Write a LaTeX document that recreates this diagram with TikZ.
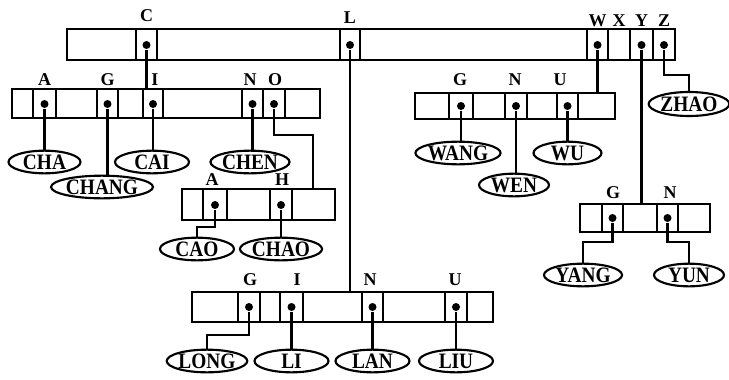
\documentclass[tikz,border=0pt]{standalone}
\usepackage{fontspec}
\setmainfont{Liberation Serif}
\newfontfamily\leaffont[FakeStretch=0.88]{Liberation Serif}
\usetikzlibrary{shapes.geometric,fit}

\tikzset{every picture/.style={line width=1.6pt}}
\tikzset{
  bar/.style={draw, inner sep=0pt},
  leaf/.style={draw, ellipse, inner sep=0pt, minimum width=55.5pt, minimum height=17pt, font=\leaffont\bfseries\fontsize{16.5}{16}\selectfont},
  lbl/.style={inner sep=0pt, font=\bfseries\fontsize{13.5}{13}\selectfont},
  dot/.style={circle, fill, inner sep=0pt, minimum size=6pt},
}

\begin{document}
\begin{tikzpicture}[x=0.75pt,y=0.75pt,yscale=-1,xscale=1]
\useasboundingbox (0,0) rectangle (729,379);

%Bars
\node[bar, fit={(67,29) (675,60)}] (tb) {};
\node[bar, fit={(12,89) (320,118)}] (lb) {};
\node[bar, fit={(182,189) (335,220)}] (cb) {};
\node[bar, fit={(192,292) (493,322)}] (bb) {};
\node[bar, fit={(415,93) (615,119)}] (wb) {};
\node[bar, fit={(580,204) (710,232)}] (yb) {};

%Cell walls
\foreach \x in {136,157,340,360,587,608,630,653} \draw (\x,29) -- (\x,60);
\foreach \x in {33,56,97,118,143,163,242,263,285} \draw (\x,89) -- (\x,118);
\foreach \x in {203,227,270,292} \draw (\x,189) -- (\x,220);
\foreach \x in {238,260,280,303,362,383,445,467} \draw (\x,292) -- (\x,322);
\foreach \x in {449,473,505,527,557,578} \draw (\x,93) -- (\x,119);
\foreach \x in {602,623,657,678} \draw (\x,204) -- (\x,232);

%Pointers
\node[dot] (tC) at (146.5,45) {};
\node[dot] (tL) at (350,45) {};
\node[dot] (tW) at (597.5,45) {};
\node[dot] (tY) at (641.5,45) {};
\node[dot] (tZ) at (664,45) {};
\node[dot] (lA) at (44.5,104) {};
\node[dot] (lG) at (107.5,104) {};
\node[dot] (lI) at (153,104) {};
\node[dot] (lN) at (252.5,104) {};
\node[dot] (lO) at (274,104) {};
\node[dot] (cA) at (215,205) {};
\node[dot] (cH) at (281,205) {};
\node[dot] (bG) at (249,307) {};
\node[dot] (bI) at (291.5,307) {};
\node[dot] (bN) at (372.5,307) {};
\node[dot] (bU) at (456,307) {};
\node[dot] (wG) at (461,106) {};
\node[dot] (wN) at (516,106) {};
\node[dot] (wU) at (567.5,106) {};
\node[dot] (yG) at (612.5,218) {};
\node[dot] (yN) at (667.5,218) {};

% Text Node
\node[lbl] (xC) at (146.5,16) {C};
\node[lbl] (xL) at (350,18) {L};
\node[lbl] (xW) at (597.5,21) {W};
\node[lbl] (xX) at (619,21) {X};
\node[lbl] (xY) at (641.5,21) {Y};
\node[lbl] (xZ) at (664,21) {Z};
\node[lbl] (xlA) at (44.5,80) {A};
\node[lbl] (xlG) at (107.5,80) {G};
\node[lbl] (xlI) at (155,80) {I};
\node[lbl] (xlN) at (250,80) {N};
\node[lbl] (xlO) at (275,80) {O};
\node[lbl] (xcA) at (212,180) {A};
\node[lbl] (xcH) at (282,180) {H};
\node[lbl] (xbG) at (250,280) {G};
\node[lbl] (xbI) at (297,280) {I};
\node[lbl] (xbN) at (370,280) {N};
\node[lbl] (xbU) at (455,280) {U};
\node[lbl] (xwG) at (460,80) {G};
\node[lbl] (xwN) at (515,80) {N};
\node[lbl] (xwU) at (560,80) {U};
\node[lbl] (xyG) at (613,193) {G};
\node[lbl] (xyN) at (670,193) {N};

%Leaves
\node[leaf, minimum width=54pt] (cha) at (44.5,162) {CHA};
\node[leaf, minimum width=67.5pt] (chang) at (102,187) {CHANG};
\node[leaf] (cai) at (152,162) {CAI};
\node[leaf] (chen) at (250,162) {CHEN};
\node[leaf] (cao) at (197,249) {CAO};
\node[leaf, minimum width=61.5pt] (chao) at (281,249) {CHAO};
\node[leaf, minimum width=60pt] (long) at (207,361) {LONG};
\node[leaf] (li) at (291.5,361) {LI};
\node[leaf] (lan) at (372.5,361) {LAN};
\node[leaf] (liu) at (456,361) {LIU};
\node[leaf] (wang) at (458,153) {WANG};
\node[leaf, minimum width=52.5pt] (wen) at (514,185) {WEN};
\node[leaf, minimum width=51pt] (wu) at (567.5,153) {WU};
\node[leaf, minimum width=58.5pt, minimum height=18pt] (zhao) at (689,104) {ZHAO};
\node[leaf] (yang) at (583,275) {YANG};
\node[leaf, minimum width=52.5pt] (yun) at (689,275) {YUN};

\coordinate (cin) at (313,189);

%Straight Lines
\draw (tC) -- (tC |- lb.north);
\draw (tL) -- (tL |- bb.north);
\draw (tW) -- (tW |- wb.north);
\draw (tY) -- (tY |- yb.north);
\draw (tZ) -- ++(0,30) -| (zhao.north);
\draw (lA) -- (lA |- cha.north);
\draw (lG) -- (lG |- chang.north);
\draw (lI) -- (lI |- cai.north);
\draw (lN) -- (lN |- chen.north);
\draw (lO) -- ++(0,31) -| (cin);
\draw (cA) -- ++(0,22) -| (cao.north);
\draw (cH) -- (cH |- chao.north);
\draw (bG) -- ++(0,28) -| (long.north);
\draw (bI) -- (bI |- li.north);
\draw (bN) -- (bN |- lan.north);
\draw (bU) -- (bU |- liu.north);
\draw (wG) -- (wG |- wang.north);
\draw (wN) -- (wN |- wen.north);
\draw (wU) -- (wU |- wu.north);
\draw (yG) -- ++(0,24) -| (yang.north);
\draw (yN) -- ++(0,24) -| (yun.north);

\end{tikzpicture}
\end{document}
